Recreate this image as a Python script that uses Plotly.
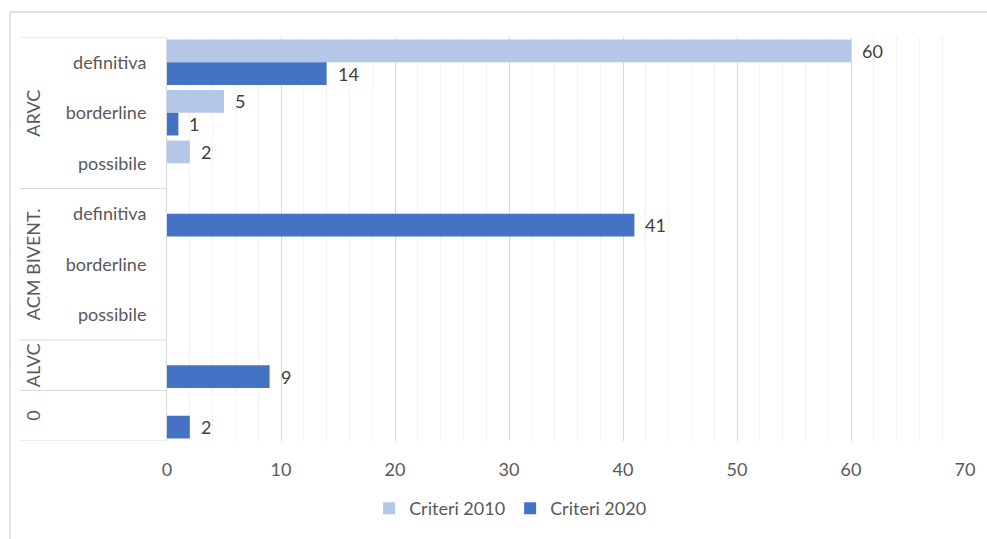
import plotly.graph_objects as go

# ---- data ----
groups = ["ARVC", "ACM BIVENT.", "ALVC", "0"]
group_rows = [[0, 1, 2], [3, 4, 5], [6], [7]]
sub_labels = ["definitiva", "borderline", "possibile",
              "definitiva", "borderline", "possibile", "", ""]
criteri_2010 = [60, 5, 2, None, None, None, None, None]
criteri_2020 = [14, 1, None, 41, None, None, 9, 2]
x_ticks = [0, 10, 20, 30, 40, 50, 60, 70]

C2010 = "#B4C7E7"
C2020 = "#4472C4"
FONT = "Lato"
FS = 18
rows = list(range(len(sub_labels)))

fig = go.Figure()
fig.add_trace(go.Bar(name="Criteri 2010", y=rows, x=criteri_2010, orientation="h",
                     marker=dict(color=C2010, line=dict(width=0))))
fig.add_trace(go.Bar(name="Criteri 2020", y=rows, x=criteri_2020, orientation="h",
                     marker=dict(color=C2020, line=dict(width=0))))

# data labels
ann = []
off = 0.225
for vals, d in ((criteri_2010, -off), (criteri_2020, off)):
    for r, v in zip(rows, vals):
        if v is None:
            continue
        ann.append(dict(x=v, y=r + d, xref="x", yref="y", text=str(v), showarrow=False,
                        xanchor="left", yanchor="middle", xshift=9,
                        font=dict(family=FONT, size=FS, color="#404040")))

# group labels (rotated)
for g, rr in zip(groups, group_rows):
    ann.append(dict(x=-0.168, y=(rr[0] + rr[-1]) / 2, xref="paper", yref="y", text=g,
                    textangle=-90, showarrow=False, xanchor="center", yanchor="middle",
                    font=dict(family=FONT, size=FS, color="#595959")))

shapes = []
for yb in [-0.5, 2.5, 5.5, 6.5, 7.5]:
    shapes.append(dict(type="line", xref="paper", yref="y", x0=-0.1842, x1=0, y0=yb, y1=yb,
                       line=dict(color="#D9D9D9", width=1)))
# outer chart border
shapes.append(dict(type="rect", xref="paper", yref="paper", x0=-0.1967, x1=1.06,
                   y0=-0.3, y1=1.0616, line=dict(color="#D9D9D9", width=1.5),
                   fillcolor="rgba(0,0,0,0)", layer="below"))

fig.update_layout(
    width=987, height=539,
    margin=dict(l=167, r=22, t=37, b=96),
    paper_bgcolor="white", plot_bgcolor="white",
    barmode="group", bargap=0.1, bargroupgap=0,
    font=dict(family=FONT, size=FS, color="#595959"),
    showlegend=True,
    legend=dict(orientation="h", x=0.43, y=-0.167, xanchor="center", yanchor="middle",
                font=dict(family=FONT, size=FS, color="#595959"),
                itemwidth=30, traceorder="normal"),
    annotations=ann, shapes=shapes,
    xaxis=dict(range=[0, 70], tickvals=x_ticks, ticktext=[str(t) for t in x_ticks],
               showgrid=True, gridcolor="#D9D9D9", gridwidth=1,
               minor=dict(dtick=2, tick0=0, showgrid=True, gridcolor="#F2F2F2", gridwidth=1),
               zeroline=False, showline=False,
               ticks="outside", ticklen=12, tickcolor="rgba(0,0,0,0)",
               tickfont=dict(family=FONT, size=FS, color="#595959")),
    yaxis=dict(range=[7.5, -0.5], tickvals=rows, ticktext=sub_labels,
               showgrid=False, zeroline=False,
               showline=True, linecolor="#D9D9D9", linewidth=1,
               ticks="outside", ticklen=16, tickcolor="rgba(0,0,0,0)",
               tickfont=dict(family=FONT, size=FS, color="#595959")),
)

post = ("document.body.style.margin='0';document.body.style.overflow='hidden';"
        "var gd=document.getElementById('{plot_id}');"
        "Plotly.relayout(gd,{width:987,height:539});")
fig.write_html("out.html", post_script=post, config={"displayModeBar": False})
